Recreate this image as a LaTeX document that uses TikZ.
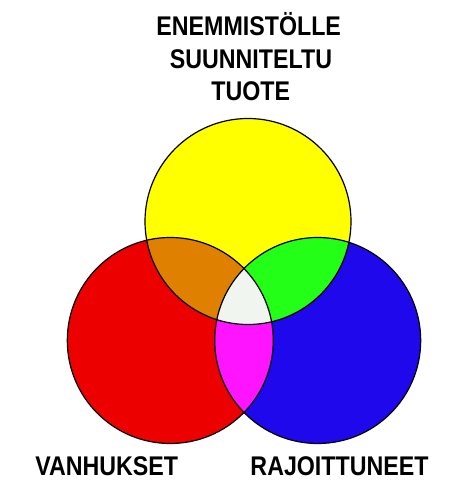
\documentclass[tikz,border=0pt]{standalone}
\usepackage{xcolor}
\usepackage{fontspec}
\usepackage{tikz}
\newfontfamily\labelfont{Liberation Sans}[FakeStretch=0.86]
\definecolor{vyellow}{RGB}{255,255,0}
\definecolor{vred}{RGB}{236,0,0}
\definecolor{vblue}{RGB}{32,8,236}
\definecolor{vorange}{RGB}{224,128,0}
\definecolor{vgreen}{RGB}{36,255,24}
\definecolor{vmagenta}{RGB}{255,20,255}
\definecolor{vwhite}{RGB}{240,245,240}
\newcommand{\circr}{103}

\begin{document}
\begin{tikzpicture}[x=1pt,y=1pt,
		outline/.style={draw=black,line width=1.2pt},
		lbl/.style={font=\labelfont\bfseries\fontsize{27}{32}\selectfont,inner sep=0pt,anchor=base}]
			\useasboundingbox (0,0) rectangle (459,483);
			\coordinate (yc) at (248,261.5);
			\coordinate (rc) at (170.3,142.5);
			\coordinate (bc) at (317.7,142.5);
			\fill[vyellow] (yc) circle (\circr);
			\fill[vred] (rc) circle (\circr);
			\fill[vblue] (bc) circle (\circr);
			\begin{scope}
				\clip (rc) circle (\circr);
				\fill[vmagenta] (bc) circle (\circr);
			\end{scope}
			\begin{scope}
				\clip (yc) circle (\circr);
				\fill[vorange] (rc) circle (\circr);
				\fill[vgreen] (bc) circle (\circr);
				\clip (rc) circle (\circr);
				\fill[vwhite] (bc) circle (\circr);
			\end{scope}
			\draw[outline] (yc) circle (\circr);
			\draw[outline] (rc) circle (\circr);
			\draw[outline] (bc) circle (\circr);
			\node[lbl] (title1) at (248.7,447) {ENEMMISTÖLLE};
			\node[lbl] (title2) at (251,414.7) {SUUNNITELTU};
			\node[lbl] (title3) at (250.8,382) {TUOTE};
			\node[lbl] (elderly) at (106.7,8) {VANHUKSET};
			\node[lbl] (disabled) at (339.5,8) {RAJOITTUNEET};
		\end{tikzpicture}
\end{document}
